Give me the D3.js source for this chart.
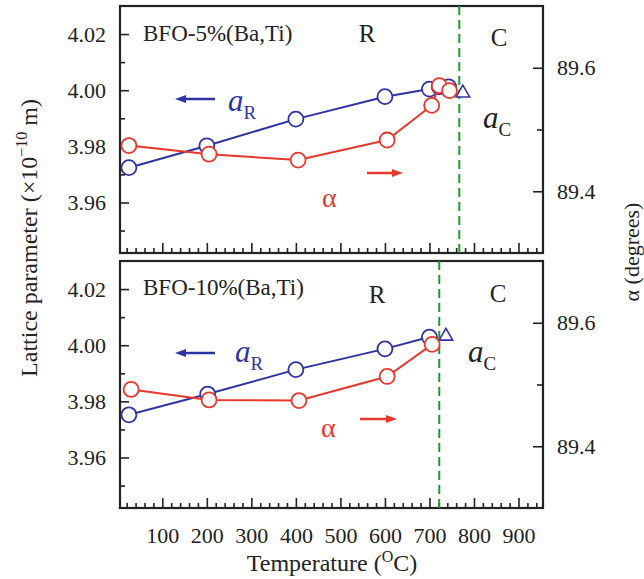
<!DOCTYPE html>
<html>
<head>
<meta charset="utf-8">
<script src="https://cdn.jsdelivr.net/npm/d3@7"></script>
<style>
    body { margin: 0; background: #fff; }
    svg text { font-family: 'Liberation Serif', 'Times New Roman', serif; fill: #222; }
</style>
</head>
<body>
<div id="chart"></div>
<script>
// Data: temperature (degC), a_R (x1e-10 m), alpha (deg)
const temps5Blue = [25, 200, 400, 600, 700, 722, 743];
const aR5 = [3.9724, 3.9802, 3.9897, 3.9977, 4.0004, 4.0012, 4.0012];
const temps5Red = [25, 205, 405, 605, 705, 722, 745];
const alpha5 = [89.474, 89.460, 89.4505, 89.483, 89.539, 89.571, 89.563];
const aC5 = [775, 3.9990];
const tc5 = 767;

const temps10Blue = [25, 202, 400, 600, 700];
const aR10 = [3.9752, 3.9826, 3.9913, 3.9987, 4.0029];
const temps10Red = [30, 205, 407, 605, 706];
const alpha10 = [89.492, 89.475, 89.474, 89.513, 89.565];
const aC10 = [737, 4.0032];
const tc10 = 722;

const xTicks = [100, 200, 300, 400, 500, 600, 700, 800, 900];
const leftTicks = [3.96, 3.98, 4.00, 4.02];
const leftMinor = [3.95, 3.97, 3.99, 4.01];
const rightTicks = [89.4, 89.6];
const rightMinor = [89.5];

const BLUE = '#2f33a3';
const RED = '#e8372c';
const GREEN = '#1f9a2f';

const width = 644, height = 579;
const left = 120, right = 543;

const svg = d3.select('#chart').append('svg')
    .attr('width', width)
    .attr('height', height);

const x = d3.scaleLinear().domain([5, 955]).range([left, right]);

const panels = [
    {
        top: 6, bottom: 253, name: 'BFO-5%(Ba,Ti)',
        tb: temps5Blue, ar: aR5, tr: temps5Red, al: alpha5, ac: aC5, tc: tc5,
        // annotation offsets from panel top
        bfoY: 35, rX: 367, rY: 36, cX: 499, cY: 40,
        blueArrowY: 93, aRX: 228, aRY: 105,
        redArrow: [367, 403, 167], alphaX: 322, alphaY: 201,
        aCX: 483, aCY: 122
    },
    {
        top: 261, bottom: 508, name: 'BFO-10%(Ba,Ti)',
        tb: temps10Blue, ar: aR10, tr: temps10Red, al: alpha10, ac: aC10, tc: tc10,
        bfoY: 34, rX: 377, rY: 42, cX: 498, cY: 41,
        blueArrowY: 92, aRX: 235, aRY: 101,
        redArrow: [360, 397, 158], alphaX: 321, alphaY: 176,
        aCX: 468, aCY: 101
    }
];

panels.forEach((p, i) => {
    const yL = d3.scaleLinear().domain([3.942, 4.03]).range([p.bottom, p.top]);
    const yR = d3.scaleLinear().domain([89.3, 89.7]).range([p.bottom, p.top]);
    const g = svg.append('g');

    // x axis (ticks inward), labels only on lower panel
    const xa = g.append('g')
        .attr('transform', `translate(0,${p.bottom})`)
        .call(d3.axisBottom(x).tickValues(xTicks).tickSize(-10).tickPadding(19)
            .tickFormat(i === 1 ? d3.format('d') : ''));
    xa.append('g').call(d3.axisBottom(x).tickValues(d3.range(20, 955, 20).filter(d => d % 100 !== 0))
        .tickSize(-5).tickFormat(''));
    g.append('g')
        .attr('transform', `translate(${left},0)`)
        .call(d3.axisLeft(yL).tickValues(leftTicks).tickSize(-9).tickPadding(14).tickFormat(d3.format('.2f')))
        .append('g').call(d3.axisLeft(yL).tickValues(leftMinor).tickSize(-5).tickFormat(''));
    g.append('g')
        .attr('transform', `translate(${right},0)`)
        .call(d3.axisRight(yR).tickValues(rightTicks).tickSize(-10).tickPadding(14).tickFormat(d3.format('.1f')))
        .append('g').call(d3.axisRight(yR).tickValues(rightMinor).tickSize(-6).tickFormat(''));

    g.selectAll('.domain').remove();
    g.selectAll('.tick line').attr('stroke', '#222').attr('stroke-width', 1.6);
    g.selectAll('.tick text').style('font-size', '22px').attr('fill', '#222');

    // frame
    g.append('rect')
        .attr('x', left).attr('y', p.top)
        .attr('width', right - left).attr('height', p.bottom - p.top)
        .attr('fill', 'none').attr('stroke', '#222').attr('stroke-width', 2.2);

    // transition line
    g.append('line')
        .attr('x1', x(p.tc)).attr('x2', x(p.tc))
        .attr('y1', p.top).attr('y2', p.bottom)
        .attr('stroke', GREEN).attr('stroke-width', 2).attr('stroke-dasharray', '9,5');

    // a_R series
    const blue = p.tb.map((t, k) => [t, p.ar[k]]);
    g.append('path').datum(blue)
        .attr('d', d3.line().x(d => x(d[0])).y(d => yL(d[1])))
        .attr('fill', 'none').attr('stroke', BLUE).attr('stroke-width', 2);
    g.selectAll('.cb').data(blue).enter().append('circle')
        .attr('cx', d => x(d[0])).attr('cy', d => yL(d[1])).attr('r', 7.5)
        .attr('fill', '#fff').attr('stroke', BLUE).attr('stroke-width', 1.8);

    // a_C triangle
    const tx = x(p.ac[0]), ty = yL(p.ac[1]);
    g.append('path')
        .attr('d', d3.symbol().type(d3.symbolTriangle).size(80)())
        .attr('transform', `translate(${tx},${ty})`)
        .attr('fill', '#fff').attr('stroke', BLUE).attr('stroke-width', 1.6);

    // alpha series
    const red = p.tr.map((t, k) => [t, p.al[k]]);
    g.append('path').datum(red)
        .attr('d', d3.line().x(d => x(d[0])).y(d => yR(d[1])))
        .attr('fill', 'none').attr('stroke', RED).attr('stroke-width', 2);
    g.selectAll('.cr').data(red).enter().append('circle')
        .attr('cx', d => x(d[0])).attr('cy', d => yR(d[1])).attr('r', 7.5)
        .attr('fill', '#fff').attr('stroke', RED).attr('stroke-width', 1.8);

    // labels
    g.append('text').attr('x', 143).attr('y', p.top + p.bfoY)
        .style('font-size', '23px').text(p.name);
    g.append('text').attr('x', p.rX).attr('y', p.top + p.rY).attr('text-anchor', 'middle')
        .style('font-size', '25px').text('R');
    g.append('text').attr('x', p.cX).attr('y', p.top + p.cY).attr('text-anchor', 'middle')
        .style('font-size', '25px').text('C');

    // blue arrow pointing left
    const by = p.top + p.blueArrowY;
    g.append('line').attr('x1', 184).attr('x2', 215).attr('y1', by).attr('y2', by)
        .attr('stroke', BLUE).attr('stroke-width', 2.5);
    g.append('path').attr('d', `M175,${by} L186,${by - 4} L186,${by + 4} Z`).attr('fill', BLUE);
    const aR = g.append('text').attr('x', p.aRX).attr('y', p.top + p.aRY).style('fill', BLUE);
    aR.append('tspan').style('font-size', '31px').style('font-style', 'italic').text('a');
    aR.append('tspan').attr('dy', 8).style('font-size', '19px').text('R');

    // red arrow pointing right
    const [r1, r2, ry0] = p.redArrow;
    const ry = p.top + ry0;
    g.append('line').attr('x1', r1).attr('x2', r2 - 9).attr('y1', ry).attr('y2', ry)
        .attr('stroke', RED).attr('stroke-width', 2.5);
    g.append('path').attr('d', `M${r2},${ry} L${r2 - 11},${ry - 4} L${r2 - 11},${ry + 4} Z`).attr('fill', RED);
    g.append('text').attr('x', p.alphaX).attr('y', p.top + p.alphaY)
        .style('font-size', '28px').style('fill', RED).text('α');

    const aC = g.append('text').attr('x', p.aCX).attr('y', p.top + p.aCY).style('fill', '#222');
    aC.append('tspan').style('font-size', '31px').style('font-style', 'italic').text('a');
    aC.append('tspan').attr('dy', 8).style('font-size', '19px').text('C');
});

// axis titles
const xt = svg.append('text').attr('x', 332).attr('y', 571).attr('text-anchor', 'middle')
    .style('font-size', '24px');
xt.append('tspan').text('Temperature (');
xt.append('tspan').attr('dy', -9).style('font-size', '16px').text('O');
xt.append('tspan').attr('dy', 9).text('C)');

const yt = svg.append('text')
    .attr('transform', 'translate(37,238) rotate(-90)')
    .attr('text-anchor', 'middle').style('font-size', '24px');
yt.append('tspan').text('Lattice  parameter (×10');
yt.append('tspan').attr('dy', -10).style('font-size', '16px').text('−10');
yt.append('tspan').attr('dy', 10).text(' m)');

svg.append('text')
    .attr('transform', 'translate(639,252) rotate(-90)')
    .attr('text-anchor', 'middle').style('font-size', '22px')
    .text('α (degrees)');
</script>
</body>
</html>
